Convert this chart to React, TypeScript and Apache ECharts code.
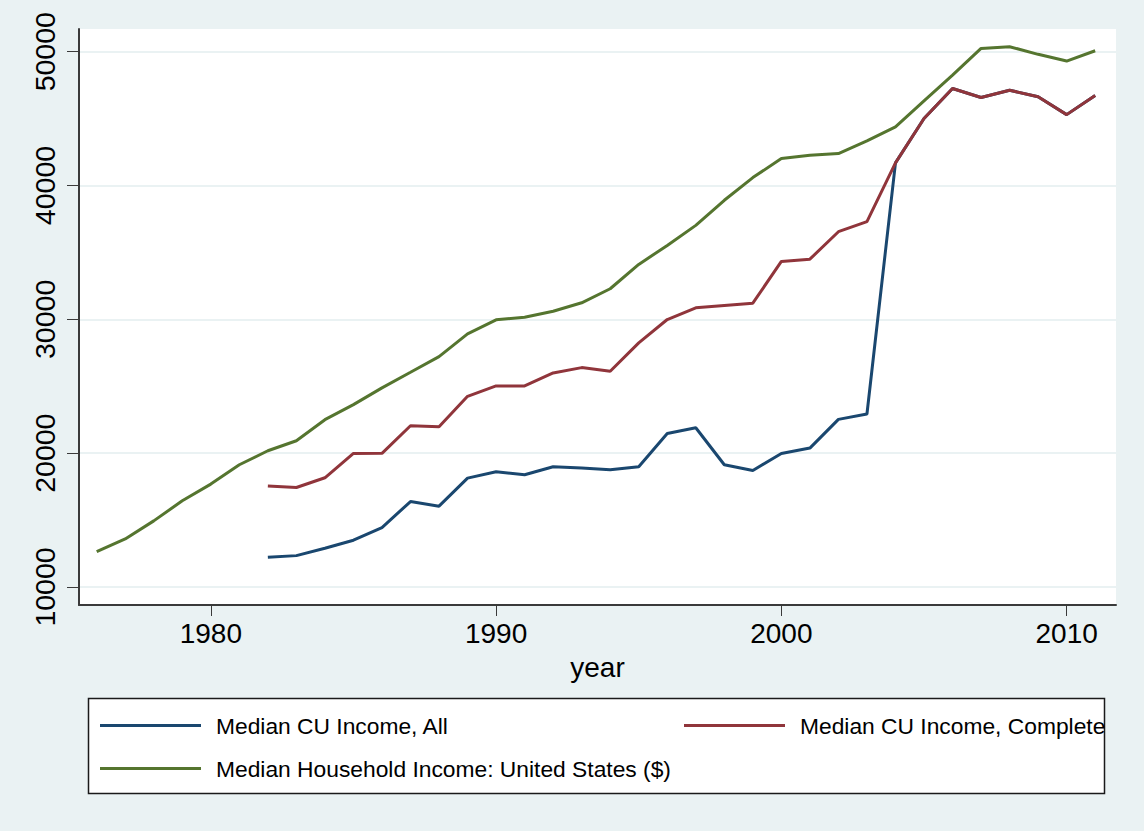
import React, { useEffect, useRef } from "react";
import * as echarts from "echarts";

const yearsAll: number[] = [
  1976, 1977, 1978, 1979, 1980, 1981, 1982, 1983, 1984, 1985, 1986, 1987,
  1988, 1989, 1990, 1991, 1992, 1993, 1994, 1995, 1996, 1997, 1998, 1999,
  2000, 2001, 2002, 2003, 2004, 2005, 2006, 2007, 2008, 2009, 2010, 2011,
];
const yearsCU: number[] = yearsAll.slice(6);

const cuAll: number[] = [
  12223, 12343, 12897, 13496, 14440, 16386, 16040, 18137, 18609, 18384,
  18983, 18883, 18758, 18983, 21476, 21902, 19133, 18708, 19979, 20380,
  22524, 22924, 41690, 45010, 47250, 46580, 47125, 46630, 45300, 46730,
];
const cuComplete: number[] = [
  17538, 17435, 18160, 19979, 19990, 22050, 21977, 24247, 25024, 25024,
  25997, 26394, 26118, 28243, 29987, 30860, 31035, 31210, 34330, 34500,
  36550, 37300, 41690, 45010, 47250, 46580, 47125, 46630, 45300, 46730,
];
const household: number[] = [
  12643, 13593, 14941, 16438, 17688, 19133, 20181, 20930, 22502, 23625,
  24880, 26043, 27218, 28917, 29966, 30160, 30609, 31238, 32286, 34105,
  35527, 37024, 38900, 40595, 42017, 42265, 42390, 43336, 44384, 46330,
  48253, 50250, 50375, 49806, 49303, 50076,
];

const seriesNames: string[] = [
  "Median CU Income, All",
  "Median CU Income, Complete",
  "Median Household Income: United States ($)",
];
const xTicks: number[] = [1980, 1990, 2000, 2010];
const yTicks: number[] = [10000, 20000, 30000, 40000, 50000];
const xTitle = "year";

const colors = ["#1a476f", "#90353b", "#55752f"];
const FONT = "'Liberation Sans', Arial, sans-serif";

export default function App() {
  const ref = useRef<HTMLDivElement>(null);
  useEffect(() => {
    if (!ref.current) return;
    const chart = echarts.init(ref.current, undefined, { renderer: "svg" });
    const pairs = (xs: number[], ys: number[]) => ys.map((v, i) => [xs[i], v]);
    const legendCommon = {
      orient: "horizontal",
      icon: "rect",
      itemWidth: 101,
      itemHeight: 3,
      padding: 0,
      selectedMode: false,
      textStyle: {
        fontFamily: FONT,
        fontSize: 22.8,
        color: "#000",
        padding: [0, 0, 0, 10],
      },
    };
    chart.setOption({
      animation: false,
      backgroundColor: "#eaf2f3",
      textStyle: { fontFamily: FONT },
      grid: {
        left: 79,
        top: 29,
        right: 28,
        bottom: 226,
        show: true,
        backgroundColor: "#ffffff",
        borderWidth: 0,
        containLabel: false,
      },
      graphic: [
        {
          type: "rect",
          z: 0,
          shape: { x: 88.5, y: 698.5, width: 1016, height: 95 },
          style: { fill: "#ffffff", stroke: "#1a1a1a", lineWidth: 1.5 },
        },
      ],
      legend: [
        { ...legendCommon, data: [seriesNames[0]], left: 100, top: 714 },
        { ...legendCommon, data: [seriesNames[1]], left: 684, top: 714 },
        { ...legendCommon, data: [seriesNames[2]], left: 100, top: 757 },
      ],
      xAxis: {
        type: "value",
        min: 1975.38,
        max: 2011.73,
        name: xTitle,
        nameLocation: "middle",
        nameGap: 48,
        nameTextStyle: { fontFamily: FONT, fontSize: 28, color: "#000" },
        axisLine: { show: true, lineStyle: { color: "#3a3a3a", width: 2 } },
        axisTick: {
          show: true,
          length: 11,
          customValues: xTicks,
          lineStyle: { color: "#3a3a3a", width: 1 },
        },
        axisLabel: {
          customValues: xTicks,
          fontFamily: FONT,
          fontSize: 28,
          color: "#000",
          margin: 14,
          formatter: (v: number) => String(v),
        },
        splitLine: { show: false },
      },
      yAxis: {
        type: "value",
        min: 8653,
        max: 51699,
        axisLine: { show: true, lineStyle: { color: "#3a3a3a", width: 2 } },
        axisTick: {
          show: true,
          length: 12,
          customValues: yTicks,
          lineStyle: { color: "#3a3a3a", width: 1 },
        },
        axisLabel: {
          customValues: yTicks,
          rotate: 90,
          fontFamily: FONT,
          fontSize: 28.5,
          color: "#000",
          margin: 20,
          formatter: (v: number) => String(v),
        },
        splitLine: {
          show: true,
          lineStyle: { color: "#eaf2f3", width: 2 },
        },
      },
      series: [
        {
          name: seriesNames[0],
          type: "line",
          data: pairs(yearsCU, cuAll),
          showSymbol: false,
          color: colors[0],
          lineStyle: { color: colors[0], width: 3 },
          z: 2,
        },
        {
          name: seriesNames[1],
          type: "line",
          data: pairs(yearsCU, cuComplete),
          showSymbol: false,
          color: colors[1],
          lineStyle: { color: colors[1], width: 3 },
          z: 3,
        },
        {
          name: seriesNames[2],
          type: "line",
          data: pairs(yearsAll, household),
          showSymbol: false,
          color: colors[2],
          lineStyle: { color: colors[2], width: 3 },
          z: 4,
        },
      ],
    });
    return () => chart.dispose();
  }, []);
  return (
    <div
      ref={ref}
      style={{ position: "absolute", left: 0, top: 0, width: 1144, height: 831 }}
    />
  );
}
